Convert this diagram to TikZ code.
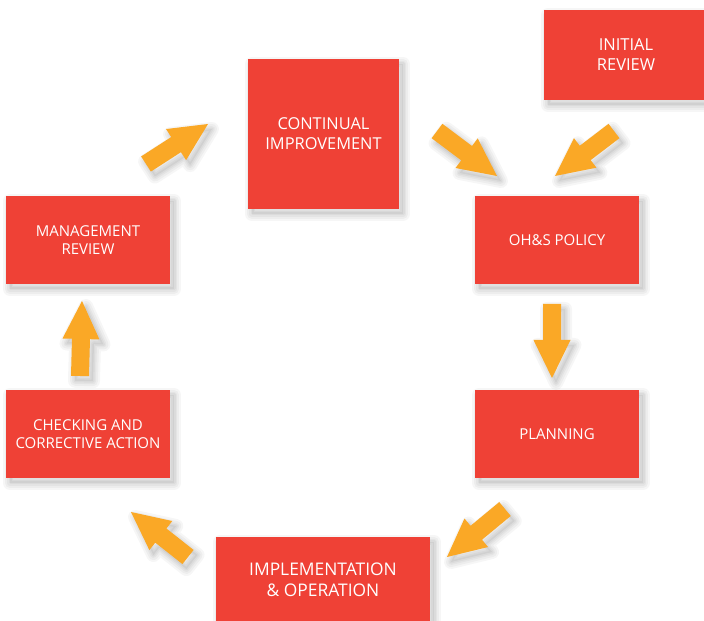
\documentclass[tikz,border=0pt]{standalone}
\usepackage{fontspec}
\setmainfont{Open Sans}
\usetikzlibrary{calc}
\definecolor{boxred}{RGB}{239,65,54}
\definecolor{arrorange}{RGB}{250,168,38}
\tikzset{
  shlayer/.style={preaction={draw=black,line width=#1,draw opacity=0.035,line join=round,
      transform canvas={xshift=4pt,yshift=-5pt}}},
  softshadow/.style={
    preaction={fill=black,fill opacity=0.05,transform canvas={xshift=4pt,yshift=-5pt}},
    shlayer=14pt,shlayer=10pt,shlayer=6pt,shlayer=3pt},
  stage/.style={fill=boxred,text=white,align=center,inner sep=0pt,
    minimum width=164pt,minimum height=88pt,
    font=\fontsize{15}{18.5}\selectfont,softshadow},
  flow/.style={fill=arrorange,softshadow},
}
\newcommand\blockarr[2]{%
  \coordinate (#2-base) at ($(#2)!38pt!(#1)$);
  \path[flow] ($(#1)!9pt!90:(#2)$) -- ($(#2-base)!9pt!90:(#2)$)
    -- ($(#2-base)!18.5pt!90:(#2)$) -- (#2)
    -- ($(#2-base)!18.5pt!-90:(#2)$) -- ($(#2-base)!9pt!-90:(#2)$)
    -- ($(#1)!9pt!-90:(#2)$) -- cycle;}
\begin{document}
\begin{tikzpicture}[x=1pt,y=1pt]
\useasboundingbox (0,0) rectangle (704,621);
\fill[white] (0,0) rectangle (704,621);
% boxes
\node[stage,minimum width=164pt,minimum height=90pt,font=\fontsize{16.5}{20}\selectfont] (ir) at (626,566) {INITIAL\\REVIEW};
\node[stage,minimum width=151pt,minimum height=150pt,font=\fontsize{16.4}{20}\selectfont] (ci) at (323.5,487) {CONTINUAL\\IMPROVEMENT};
\node[stage] (oh) at (557,381) {OH\&S POLICY};
\node[stage] (pl) at (557,187) {PLANNING};
\node[stage,minimum width=214pt,minimum height=86pt,font=\fontsize{17.4}{21.5}\selectfont] (im) at (323,41) {IMPLEMENTATION\\\& OPERATION};
\node[stage] (ck) at (88,187) {CHECKING AND\\CORRECTIVE ACTION};
\node[stage] (mr) at (88,381) {MANAGEMENT\\REVIEW};
% arrow end points
\coordinate (a1) at (437,490); \coordinate (b1) at (497,445);
\coordinate (a2) at (614,490); \coordinate (b2) at (555,445);
\coordinate (a3) at (552,317); \coordinate (b3) at (552,243);
\coordinate (a4) at (505,112); \coordinate (b4) at (447,64);
\coordinate (a5) at (188,64);  \coordinate (b5) at (131,109);
\coordinate (a6) at (80,245);  \coordinate (b6) at (82,320);
\coordinate (a7) at (146,457); \coordinate (b7) at (208,497);
\blockarr{a1}{b1}
\blockarr{a2}{b2}
\blockarr{a3}{b3}
\blockarr{a4}{b4}
\blockarr{a5}{b5}
\blockarr{a6}{b6}
\blockarr{a7}{b7}
\end{tikzpicture}
\end{document}
